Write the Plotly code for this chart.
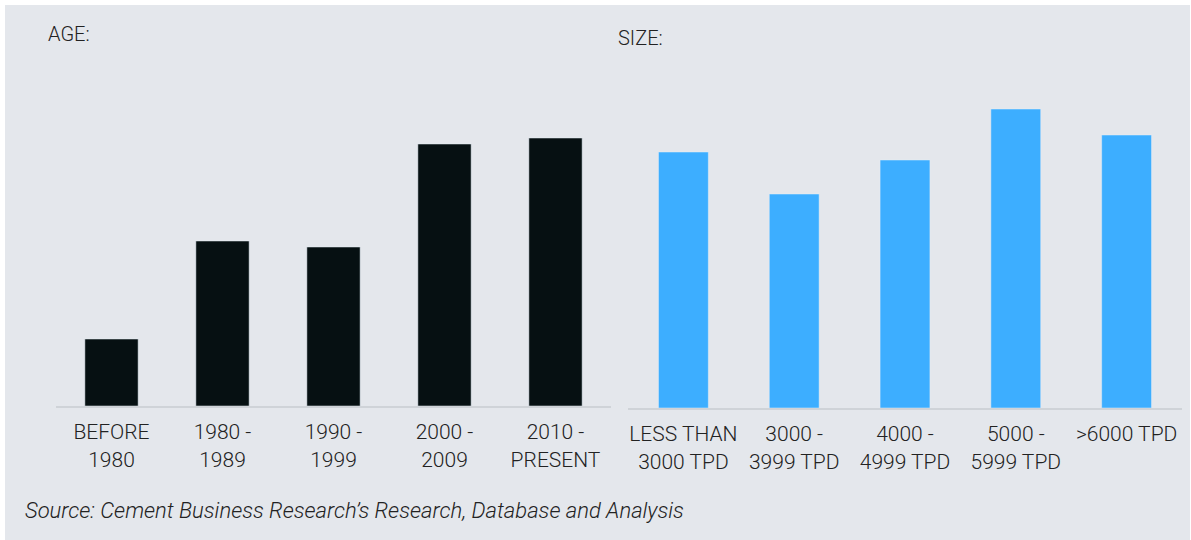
import plotly.graph_objects as go

age_labels = ["BEFORE<br>1980", "1980 -<br>1989", "1990 -<br>1999", "2000 -<br>2009", "2010 -<br>PRESENT"]
age_values = [67, 165, 159, 262, 268]

size_labels = ["LESS THAN<br>3000 TPD", "3000 -<br>3999 TPD", "4000 -<br>4999 TPD", "5000 -<br>5999 TPD", ">6000 TPD"]
size_values = [256, 214, 248, 299, 273]

W, H = 1191, 540
BG = "#e4e7ec"
TXT = "#222222"
FONT = "Roboto"

fig = go.Figure()
fig.add_trace(go.Bar(x=age_labels, y=age_values, marker_color="#061012",
                     xaxis="x", yaxis="y", width=0.48, hoverinfo="skip"))
fig.add_trace(go.Bar(x=size_labels, y=size_values, marker_color="#3daeff",
                     xaxis="x2", yaxis="y2", width=0.45, hoverinfo="skip"))

tickfont = dict(family=FONT, size=21, color=TXT, weight=300)
axis_common = dict(showline=True, linecolor="#cfd3d8", linewidth=2, showgrid=False,
                   zeroline=False, ticks="", tickfont=tickfont, fixedrange=True,
                   ticklabelstandoff=6)

fig.update_layout(
    width=W, height=H,
    margin=dict(l=0, r=0, t=0, b=0),
    paper_bgcolor="white", plot_bgcolor="rgba(0,0,0,0)",
    showlegend=False,
    xaxis=dict(domain=[56 / W, 611 / W], anchor="y", **axis_common),
    xaxis2=dict(domain=[628 / W, 1182 / W], anchor="y2", **axis_common),
    yaxis=dict(domain=[1 - 406 / H, 1 - 60 / H], range=[0, 346], visible=False, fixedrange=True),
    yaxis2=dict(domain=[1 - 408 / H, 1 - 60 / H], range=[0, 348], visible=False, fixedrange=True),
    shapes=[dict(type="rect", xref="paper", yref="paper", x0=5 / W, x1=1190 / W, y0=0, y1=1 - 5 / H,
                 fillcolor=BG, line=dict(width=0), layer="below")],
    annotations=[
        dict(text="AGE:", x=46 / W, y=1 - 34 / H, xref="paper", yref="paper", xanchor="left",
             yanchor="middle", showarrow=False, font=dict(family=FONT, size=20, color=TXT, weight=300)),
        dict(text="SIZE:", x=616 / W, y=1 - 38 / H, xref="paper", yref="paper", xanchor="left",
             yanchor="middle", showarrow=False, font=dict(family=FONT, size=20, color=TXT, weight=300)),
        dict(text="<i>Source: Cement Business Research’s Research, Database and Analysis</i>",
             x=23 / W, y=1 - 510 / H, xref="paper", yref="paper", xanchor="left", yanchor="middle",
             showarrow=False, font=dict(family=FONT, size=22, color=TXT, weight=300)),
    ],
)

fig.write_html("out.html")
